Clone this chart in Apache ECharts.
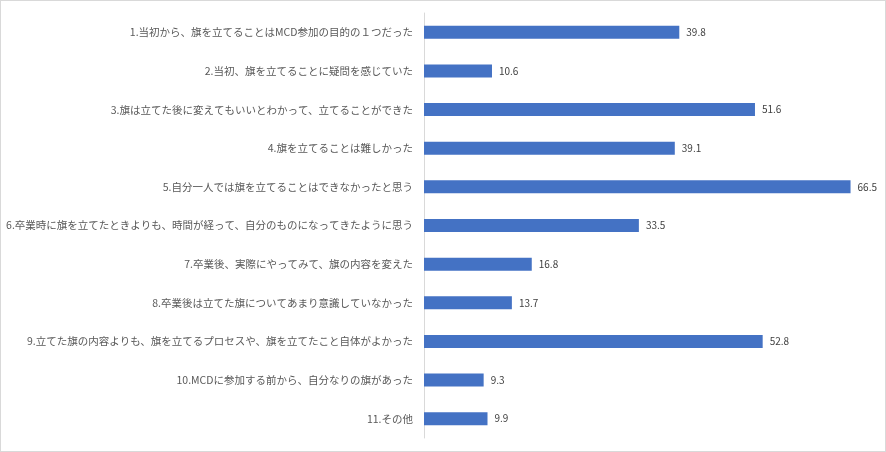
<!DOCTYPE html>
<html>
<head>
<meta charset="utf-8">
<script src="https://cdn.jsdelivr.net/npm/echarts@6/dist/echarts.min.js"></script>
<style>
html, body { margin: 0; padding: 0; background: #fff; }
#main { width: 884px; height: 450px; border: 1px solid #d9d9d9; }
</style>
</head>
<body>
<div id="main"></div>
<script>
var categories = [
    '1.当初から、旗を立てることはMCD参加の目的の１つだった',
    '2.当初、旗を立てることに疑問を感じていた',
    '3.旗は立てた後に変えてもいいとわかって、立てることができた',
    '4.旗を立てることは難しかった',
    '5.自分一人では旗を立てることはできなかったと思う',
    '6.卒業時に旗を立てたときよりも、時間が経って、自分のものになってきたように思う',
    '7.卒業後、実際にやってみて、旗の内容を変えた',
    '8.卒業後は立てた旗についてあまり意識していなかった',
    '9.立てた旗の内容よりも、旗を立てるプロセスや、旗を立てたこと自体がよかった',
    '10.MCDに参加する前から、自分なりの旗があった',
    '11.その他'
];
var values = [39.8, 10.6, 51.6, 39.1, 66.5, 33.5, 16.8, 13.7, 52.8, 9.3, 9.9];

var myChart = echarts.init(document.getElementById('main'));

myChart.setOption({
    animation: false,
    textStyle: {
        fontFamily: '"Noto Sans CJK JP", "Noto Sans", sans-serif'
    },
    grid: {
        left: 423,
        right: 12,
        top: 12,
        bottom: 13,
        containLabel: false
    },
    xAxis: {
        type: 'value',
        min: 0,
        max: 70,
        show: false
    },
    yAxis: {
        type: 'category',
        inverse: true,
        data: categories,
        axisLine: {
            lineStyle: { color: '#d9d9d9', width: 1 }
        },
        axisTick: { show: false },
        axisLabel: {
            color: '#595959',
            fontSize: 10.5,
            margin: 11
        }
    },
    series: [{
        type: 'bar',
        data: values,
        barWidth: 13,
        itemStyle: { color: '#4472c4' },
        label: {
            show: true,
            position: 'right',
            distance: 7,
            color: '#404040',
            fontSize: 10,
            formatter: function (p) {
                return p.value.toFixed(1);
            }
        }
    }]
});
</script>
</body>
</html>
